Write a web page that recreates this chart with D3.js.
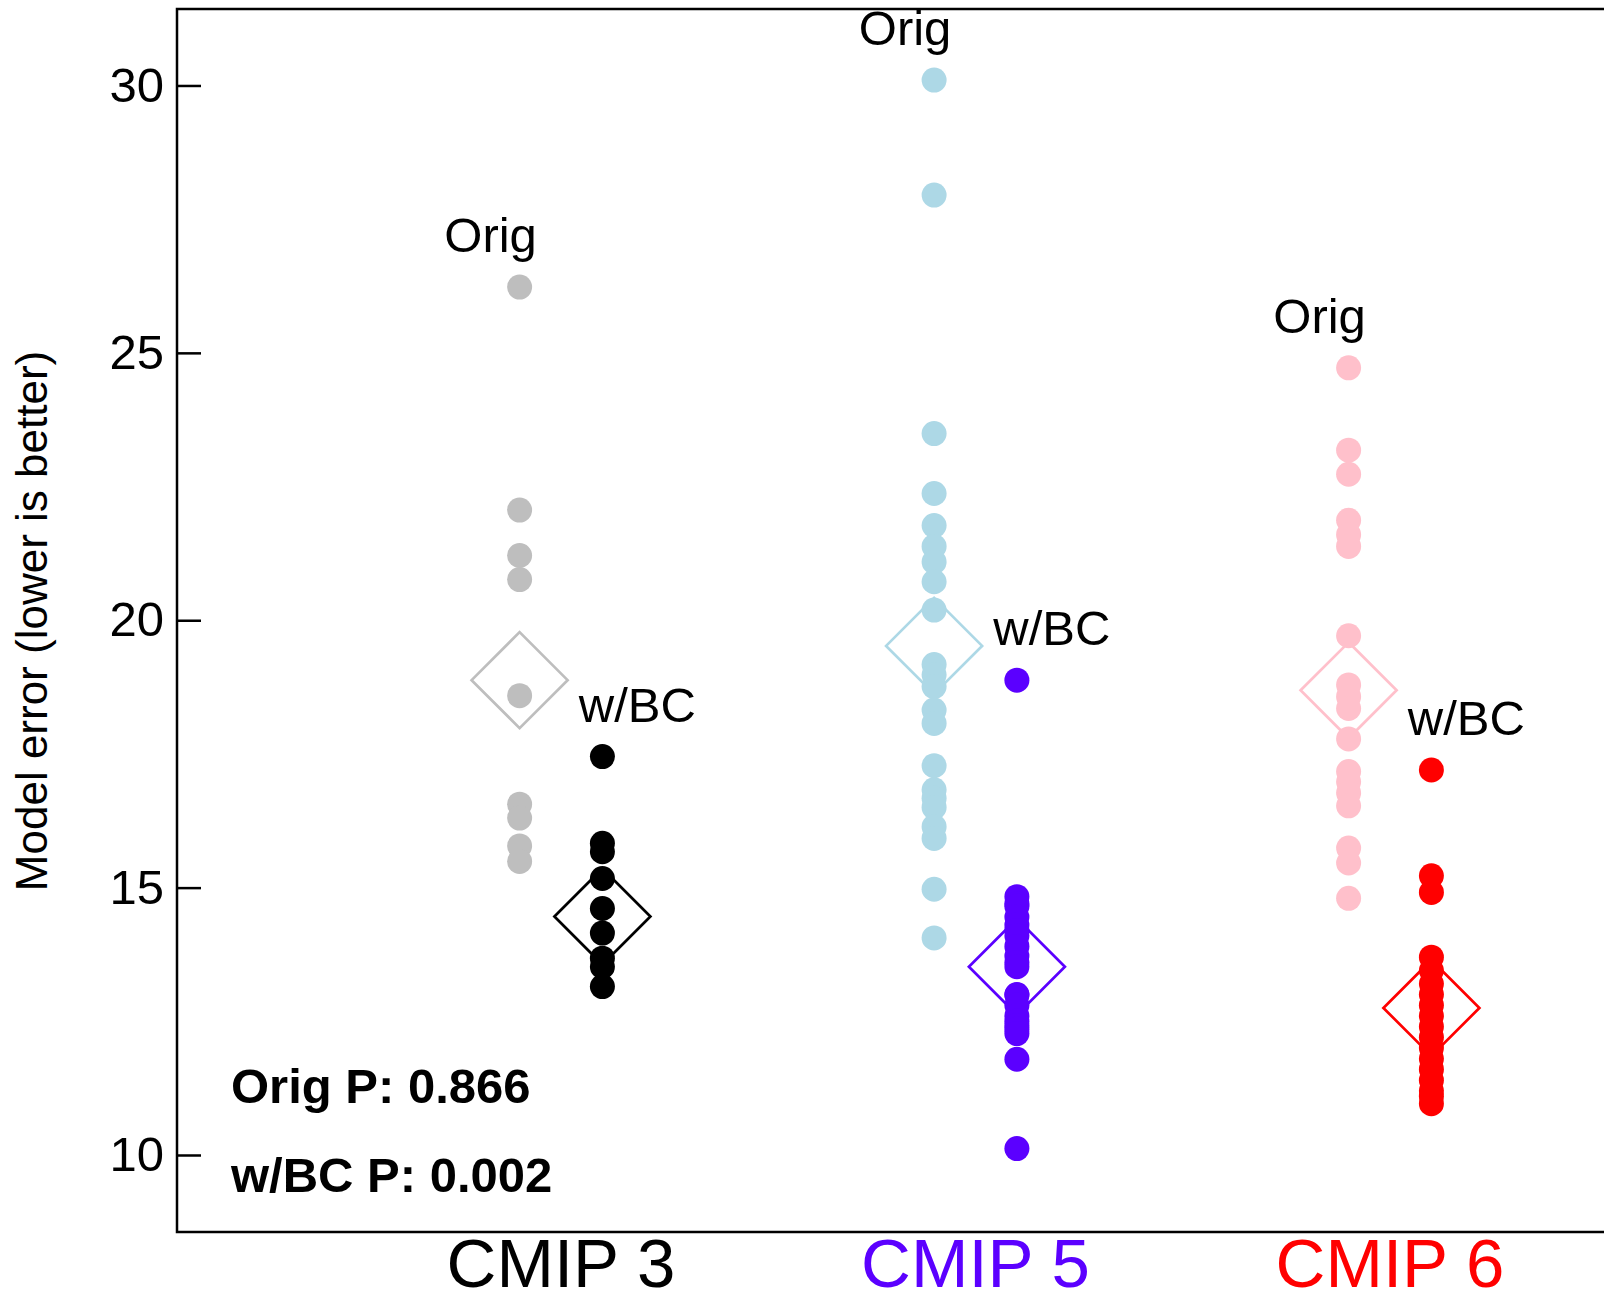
<!DOCTYPE html>
<html>
<head>
<meta charset="utf-8">
<script src="https://cdn.jsdelivr.net/npm/d3@7"></script>
<style>
  body { margin: 0; background: #fff; }
  svg { display: block; font-family: "Liberation Sans", Arial, sans-serif; }
</style>
</head>
<body>
<div id="chart"></div>
<script>
// --- Data ---
const groups = ['CMIP 3', 'CMIP 5', 'CMIP 6'];

const origCmip3 = [26.23, 22.06, 21.21, 20.76, 18.59, 16.56, 16.30, 15.78, 15.49];
const origCmip5 = [30.10, 27.95, 23.49, 22.37, 21.77, 21.38, 21.09, 20.72, 20.19, 19.17, 18.98,
                   18.76, 18.32, 18.07, 17.28, 16.83, 16.67, 16.50, 16.14, 15.92, 14.97, 14.06];
const origCmip6 = [24.72, 23.18, 22.73, 21.87, 21.60, 21.38, 19.71, 18.79, 18.57, 18.35, 17.78,
                   17.17, 16.98, 16.77, 16.53, 15.74, 15.46, 14.80];

const bcCmip3 = [17.45, 15.83, 15.67, 15.17, 14.61, 14.15, 13.68, 13.52, 13.15];
const bcCmip5 = [18.88, 14.83, 14.70, 14.65, 14.45, 14.30, 14.20, 14.10, 13.90, 13.72, 13.60, 13.52,
                 13.00, 12.99, 12.80, 12.60, 12.50, 12.42, 12.35, 12.27, 11.79, 10.12];
const bcCmip6 = [17.20, 15.22, 14.91, 13.70, 13.45, 13.20, 13.00, 12.80, 12.60, 12.40, 12.20,
                 12.00, 11.80, 11.60, 11.40, 11.20, 11.10, 10.96];

const origMeans = [18.88, 19.52, 18.69];
const bcMeans = [14.46, 13.52, 12.75];

const yTicks = [10, 15, 20, 25, 30];
const pLabels = ['Orig P: 0.866', 'w/BC P: 0.002'];

const origColors = ['#bebebe', '#add8e6', '#ffc0cb'];
const bcColors = ['#000000', '#5b00ff', '#ff0000'];

// --- Layout ---
const width = 1604;
const height = 1304;
const frame = { left: 177, top: 9, bottom: 1232 };
const dotR = 12.5;
const diamondR = 48;
const pairOffset = 41.4;

const svg = d3.select('#chart').append('svg')
    .attr('width', width)
    .attr('height', height);

const x = d3.scalePoint()
    .domain(groups)
    .range([561, 1390]);

const y = d3.scaleLinear()
    .domain([8.56, 31.43])
    .range([frame.bottom, frame.top]);

const series = groups.map((g, i) => ({
    group: g,
    orig: [origCmip3, origCmip5, origCmip6][i],
    bc: [bcCmip3, bcCmip5, bcCmip6][i],
    origMean: origMeans[i],
    bcMean: bcMeans[i],
    origColor: origColors[i],
    bcColor: bcColors[i]
}));

// --- Frame ---
svg.append('rect')
    .attr('x', frame.left)
    .attr('y', frame.top)
    .attr('width', width + 20 - frame.left)
    .attr('height', frame.bottom - frame.top)
    .attr('fill', 'none')
    .attr('stroke', '#000')
    .attr('stroke-width', 2.5);

// --- Y axis (inward ticks) ---
const yAxis = d3.axisLeft(y)
    .tickValues(yTicks)
    .tickSizeInner(-24)
    .tickSizeOuter(0)
    .tickPadding(13);

const ya = svg.append('g')
    .attr('transform', `translate(${frame.left},0)`)
    .call(yAxis);
ya.select('.domain').remove();
ya.selectAll('.tick line').attr('stroke', '#000').attr('stroke-width', 2.5);
ya.selectAll('.tick text')
    .attr('font-size', 49)
    .attr('font-family', '"Liberation Sans", Arial, sans-serif')
    .attr('fill', '#000');

svg.append('text')
    .attr('transform', `translate(47,621) rotate(-90)`)
    .attr('text-anchor', 'middle')
    .attr('font-size', 44)
    .text('Model error (lower is better)');

// --- Groups ---
const diamond = (cx, cy) => `M${cx},${cy - diamondR}L${cx + diamondR},${cy}L${cx},${cy + diamondR}L${cx - diamondR},${cy}Z`;

const gs = svg.selectAll('g.group')
    .data(series)
    .join('g')
    .attr('class', 'group');

gs.each(function(d) {
    const g = d3.select(this);
    const xo = x(d.group) - pairOffset;
    const xb = x(d.group) + pairOffset;

    g.append('path')
        .attr('d', diamond(xo, y(d.origMean)))
        .attr('fill', 'none')
        .attr('stroke', d.origColor)
        .attr('stroke-width', 2.7);
    g.append('path')
        .attr('d', diamond(xb, y(d.bcMean)))
        .attr('fill', 'none')
        .attr('stroke', d.bcColor)
        .attr('stroke-width', 2.7);

    g.selectAll('circle.orig')
        .data(d.orig)
        .join('circle')
        .attr('class', 'orig')
        .attr('cx', xo)
        .attr('cy', v => y(v))
        .attr('r', dotR)
        .attr('fill', d.origColor);

    g.selectAll('circle.bc')
        .data(d.bc)
        .join('circle')
        .attr('class', 'bc')
        .attr('cx', xb)
        .attr('cy', v => y(v))
        .attr('r', dotR)
        .attr('fill', d.bcColor);

    g.append('text')
        .attr('x', xo - 29)
        .attr('y', y(d3.max(d.orig)) - 35)
        .attr('text-anchor', 'middle')
        .attr('font-size', 49)
        .text('Orig');

    g.append('text')
        .attr('x', xb + 35)
        .attr('y', y(d3.max(d.bc)) - 35)
        .attr('text-anchor', 'middle')
        .attr('font-size', 49)
        .text('w/BC');

    // category label
    g.append('text')
        .attr('x', x(d.group))
        .attr('y', 1287)
        .attr('text-anchor', 'middle')
        .attr('font-size', 69)
        .attr('fill', d.bcColor)
        .text(d.group);
});

// --- P-values ---
svg.selectAll('text.pval')
    .data(pLabels)
    .join('text')
    .attr('class', 'pval')
    .attr('x', 231)
    .attr('y', (d, i) => 1103 + i * 89)
    .attr('font-size', 49)
    .attr('font-weight', 'bold')
    .text(d => d);
</script>
</body>
</html>
